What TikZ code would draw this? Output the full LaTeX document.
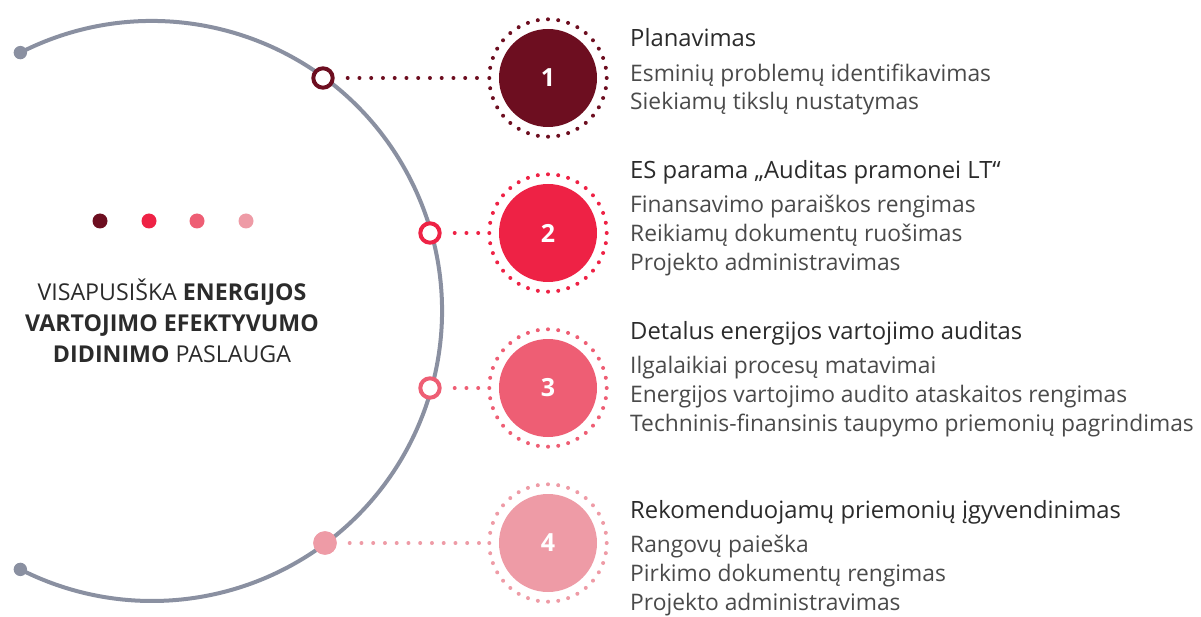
\documentclass[tikz,border=0pt]{standalone}
\usepackage{fontspec}
\setmainfont{Open Sans}
\definecolor{c1}{HTML}{6D0E20}
\definecolor{c2}{HTML}{EE2245}
\definecolor{c3}{HTML}{EE5E74}
\definecolor{c4}{HTML}{EE9BA6}
\definecolor{arcgray}{HTML}{8A90A1}
\definecolor{txt}{HTML}{2B2B2B}
\definecolor{sub}{HTML}{4A4A4A}

\begin{document}
\begin{tikzpicture}[x=1pt, y=-1pt,
  stage/.style={circle, minimum size=98pt, inner sep=0pt, text=white,
    font=\fontsize{25}{25}\selectfont\bfseries},
  ring/.style={circle, minimum size=117.4pt, inner sep=0pt, draw, line width=4pt,
    line cap=round, dash pattern=on 0pt off 10.245pt},
  marker/.style={circle, minimum size=19.4pt, inner sep=0pt, draw, line width=4pt,
    fill=white},
  link/.style={line width=4pt, line cap=round, dash pattern=on 0pt off 11.75pt,
    shorten <=13pt},
  title/.style={anchor=base west, inner sep=0pt, text=txt,
    font=\fontsize{23.8}{23.8}\selectfont},
  item/.style={anchor=base west, inner sep=0pt, text=sub,
    font=\fontsize{22.8}{22.8}\selectfont} ]

\useasboundingbox (0,0) rectangle (1201,617);

% Big arc
\coordinate (c) at (152,311);
\draw[arcgray, line width=4pt] (c) ++(-117:290) arc (-117:117:290);
\fill[arcgray] (c) ++(-117:290) coordinate (e1) circle (6.7);
\fill[arcgray] (c) ++(117:290) coordinate (e2) circle (6.7);

% Colour dots
\foreach \x/\col [count=\k] in {100/c1,149/c2,197/c3,246/c4} { \node[circle,
  fill=\col, minimum size=15pt, inner sep=0pt] (d\k) at (\x,221) {}; }

% Service label
\node[align=center, text=txt, font=\fontsize{23.2}{31}\selectfont] (lbl) at
  (172,321) {VISAPUSIŠKA \textbf{ENERGIJOS}\\ \textbf{VARTOJIMO
  EFEKTYVUMO}\\ \textbf{DIDINIMO} PASLAUGA};

% Stages
\foreach \y/\col/\mx [count=\k] in {78/c1/323,233/c2/430,388/c3/430,543/c4/325}
{ \node[stage, fill=\col] (s\k) at (548,\y) {\k};
  \node[ring, draw=\col] (r\k) at (548,\y) {};
  \node[marker, draw=\col] (m\k) at (\mx,\y) {};
  \draw[link, \col] (m\k) -- (r\k); }

% last marker is filled
\node[marker, draw=c4, fill=c4] at (m4) {};

% Stage 1
\node[title] (t1) at (630,47) {Planavimas};
\foreach \t [count=\i] in {Esminių problemų identifikavimas, Siekiamų tikslų
  nustatymas} \node[item] (a\i) at (630,{82+28*(\i-1)}) {\t};

% Stage 2
\node[title] (t2) at (630,179) {ES parama „Auditas pramonei LT“};
\foreach \t [count=\i] in {Finansavimo paraiškos rengimas, Reikiamų
  dokumentų ruošimas, Projekto administravimas} \node[item] (b\i) at
  (630,{213+28.7*(\i-1)}) {\t};

% Stage 3
\node[title] (t3) at (630,339) {Detalus energijos vartojimo auditas};
\foreach \t [count=\i] in {Ilgalaikiai procesų matavimai, Energijos vartojimo
  audito ataskaitos rengimas, Techninis-finansinis taupymo priemonių
  pagrindimas} \node[item] (f\i) at (630,{373+29*(\i-1)}) {\t};

% Stage 4
\node[title] (t4) at (630,518) {Rekomenduojamų priemonių įgyvendinimas};
\foreach \t [count=\i] in {Rangovų paieška, Pirkimo dokumentų rengimas,
  Projekto administravimas} \node[item] (g\i) at (630,{552+29*(\i-1)}) {\t};

\end{tikzpicture}
\end{document}
